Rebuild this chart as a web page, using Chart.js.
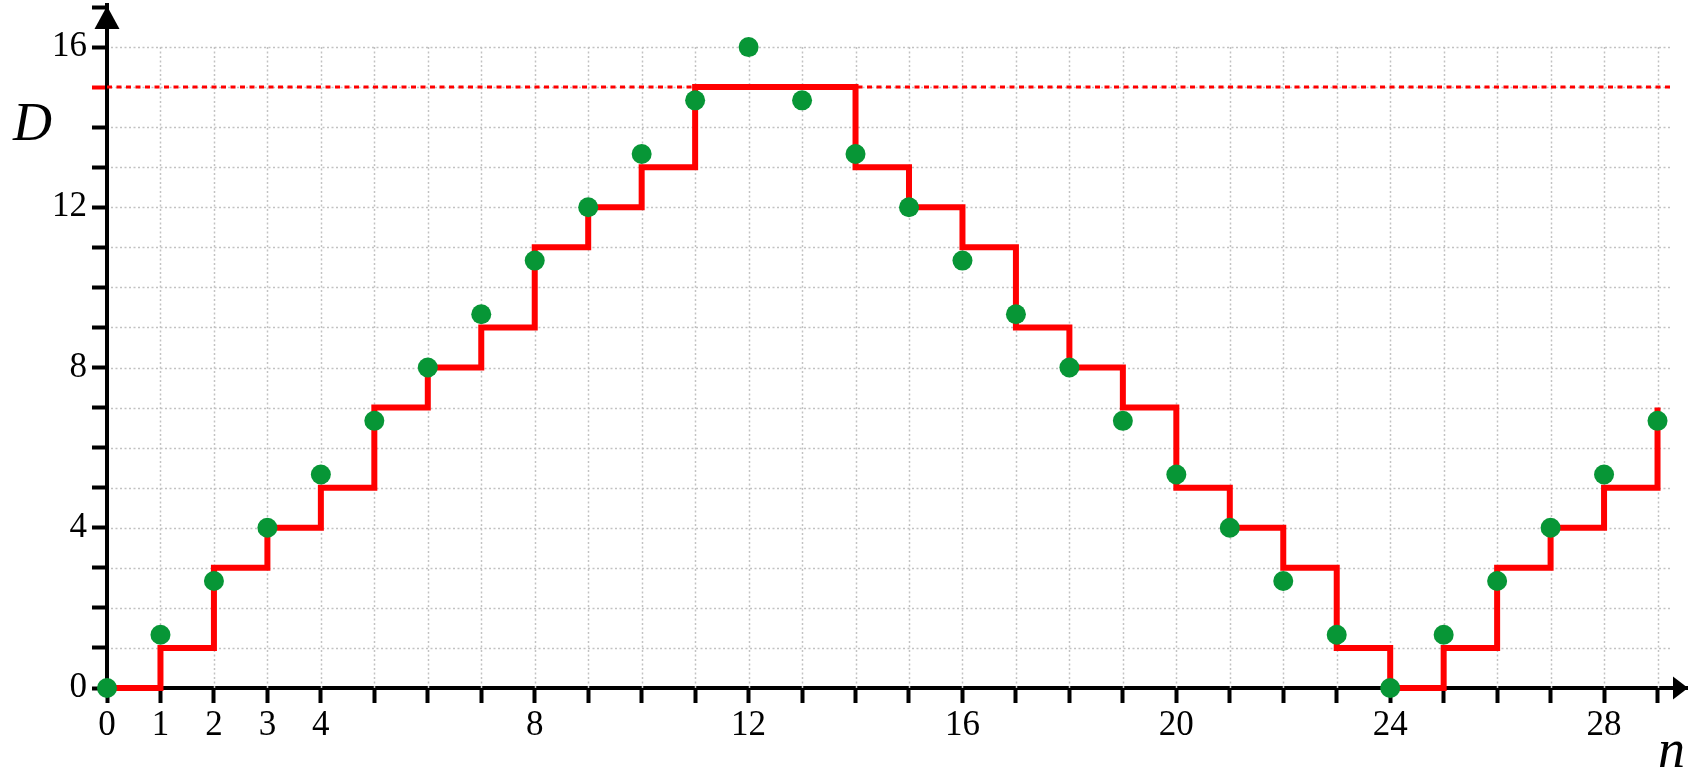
<!DOCTYPE html>
<html>
<head>
<meta charset="utf-8">
<script src="https://cdn.jsdelivr.net/npm/chart.js@4/dist/chart.umd.min.js"></script>
<style>
html,body{margin:0;padding:0;background:#fff;}
canvas{display:block;}
</style>
</head>
<body>
<canvas id="c" width="1688" height="771"></canvas>
<script>
// ---- data ----
const nValues    = [0,1,2,3,4,5,6,7,8,9,10,11,12,13,14,15,16,17,18,19,20,21,22,23,24,25,26,27,28,29];
const dotValues  = [0,1.33,2.67,4,5.33,6.67,8,9.33,10.67,12,13.33,14.67,16,14.67,13.33,12,10.67,9.33,8,6.67,5.33,4,2.67,1.33,0,1.33,2.67,4,5.33,6.67];
const stepValues = [0,1,3,4,5,7,8,9,11,12,13,15,15,15,13,12,11,9,8,7,5,4,3,1,0,1,3,4,5,7];
const xTickLabels = [0,1,2,3,4,8,12,16,20,24,28];
const yTickLabels = [0,4,8,12,16];
const limitValue = 15;
const limitSpan  = [0, 29.28];
const gridXMax = 29.28, gridYMax = 16;
const xAxisTitle = 'n', yAxisTitle = 'D';

const FONT = "'Liberation Serif', 'Times New Roman', serif";

const dots = nValues.map((n,i)=>({x:n, y:dotValues[i]}));
const steps = nValues.map((n,i)=>({x:n, y:stepValues[i]}));
const limitLine = limitSpan.map(x=>({x:x, y:limitValue}));

const decor = {
  id:'decor',
  beforeDatasetsDraw(chart){
    const {ctx, scales:{x, y}} = chart;
    ctx.save();
    ctx.strokeStyle = '#c2c2c2';
    ctx.lineWidth = 1.5;
    ctx.setLineDash([2,2.5]);
    for (let i=1;i<=Math.floor(gridXMax);i++){
      const px = Math.round(x.getPixelForValue(i))+0.5;
      ctx.beginPath();
      ctx.moveTo(px, y.getPixelForValue(0));
      ctx.lineTo(px, y.getPixelForValue(gridYMax));
      ctx.stroke();
    }
    for (let j=1;j<=gridYMax;j++){
      const py = Math.round(y.getPixelForValue(j))+0.5;
      ctx.beginPath();
      ctx.moveTo(x.getPixelForValue(0)+4, py);
      ctx.lineTo(x.getPixelForValue(gridXMax), py);
      ctx.stroke();
    }
    ctx.restore();
  },
  afterDraw(chart){
    const {ctx, scales:{x, y}} = chart;
    const ox = x.getPixelForValue(0), oy = y.getPixelForValue(0);
    ctx.save();
    ctx.fillStyle = '#000';
    // y arrow
    const top = chart.chartArea.top;
    ctx.beginPath();
    ctx.moveTo(ox, top+1);
    ctx.lineTo(ox-12.5, top+24);
    ctx.lineTo(ox+12.5, top+24);
    ctx.closePath();
    ctx.fill();
    // x arrow
    const right = chart.chartArea.right;
    ctx.beginPath();
    ctx.moveTo(right, oy);
    ctx.lineTo(right-15, oy-11.5);
    ctx.lineTo(right-15, oy+11.5);
    ctx.closePath();
    ctx.fill();
    // axis titles
    ctx.font = "italic 54px " + FONT;
    ctx.textAlign = 'left';
    ctx.textBaseline = 'alphabetic';
    ctx.fillText(yAxisTitle, 13, 140);
    ctx.fillText(xAxisTitle, 1658, 767);
    ctx.restore();
  }
};

function noPad(s){ s.paddingTop = 0; s.paddingBottom = 0; s.paddingLeft = 0; s.paddingRight = 0; }

new Chart(document.getElementById('c'), {
  type:'scatter',
  data:{
    datasets:[
      {label:'D', data:dots, showLine:false, pointRadius:10, pointHoverRadius:10,
       pointBackgroundColor:'#079636', pointBorderWidth:0, order:0, clip:false},
      {label:'step', data:steps, showLine:true, stepped:'before', borderColor:'#ff0000',
       borderWidth:6, pointRadius:0, borderJoinStyle:'miter', borderCapStyle:'butt', fill:false, order:1, clip:false},
      {label:'limit', data:limitLine, showLine:true, borderColor:'#ff0000', borderWidth:3,
       borderDash:[5,4.5], pointRadius:0, fill:false, order:2}
    ]
  },
  options:{
    responsive:false,
    devicePixelRatio:1,
    animation:false,
    events:[],
    layout:{autoPadding:false, padding:{top:5,left:0,right:0,bottom:0}},
    plugins:{legend:{display:false}, tooltip:{enabled:false}},
    scales:{
      x:{
        type:'linear', min:0, max:29.57,
        afterFit(s){ s.height = 83; noPad(s); },
        ticks:{stepSize:1, includeBounds:false, autoSkip:false, maxRotation:0, minRotation:0,
          color:'#000', padding:2, font:{family:FONT, size:35},
          callback:(v)=> xTickLabels.includes(v) ? String(v) : ''},
        grid:{drawOnChartArea:false, drawTicks:true, tickLength:15, tickWidth:4, tickColor:'#000'},
        border:{display:true, color:'#000', width:4}
      },
      y:{
        type:'linear', min:0, max:17.05,
        afterFit(s){ s.width = 107; noPad(s); },
        ticks:{stepSize:1, includeBounds:false, autoSkip:false,
          color:'#000', padding:5, font:{family:FONT, size:35},
          callback:(v)=> yTickLabels.includes(v) ? String(v) : ''},
        grid:{drawOnChartArea:false, drawTicks:true, tickLength:15, tickWidth:4,
          tickColor:(c)=> (c.tick && c.tick.value===limitValue) ? '#ff0000' : '#000'},
        border:{display:true, color:'#000', width:4}
      }
    }
  },
  plugins:[decor]
});
</script>
</body>
</html>
